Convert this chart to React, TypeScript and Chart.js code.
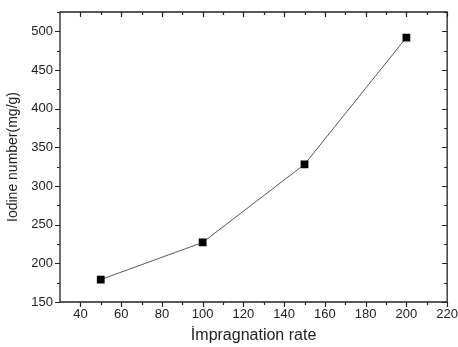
import React, { useEffect, useRef } from "react";
import { Chart, registerables } from "chart.js";

Chart.register(...registerables);

const rates = [50, 100, 150, 200];
const iodine = [179, 227, 328, 492];
const xTickStep = 20;
const yTickStep = 50;
const xRange = [30, 220];
const yRange = [150, 525];
const xTitle = "İmpragnation rate";
const yTitle = "Iodine number(mg/g)";

const FONT = "'Liberation Sans', Arial, sans-serif";

const framePlugin = {
  id: "frame",
  afterDraw(chart: any) {
    const { ctx, chartArea: a, scales } = chart;
    const xs = scales.x;
    const ys = scales.y;
    ctx.save();
    ctx.strokeStyle = "#222";
    ctx.lineWidth = 1.3;
    ctx.beginPath();
    ctx.rect(a.left, a.top, a.right - a.left, a.bottom - a.top);
    ctx.stroke();
    ctx.lineWidth = 1.2;
    ctx.beginPath();
    for (let v = 40; v <= xRange[1] + 1e-6; v += xTickStep / 2) {
      const major = Math.round(v) % xTickStep === 0;
      const px = Math.round(xs.getPixelForValue(v)) + 0.5;
      const len = major ? 5 : 3;
      ctx.moveTo(px, a.bottom);
      ctx.lineTo(px, a.bottom + len);
      ctx.moveTo(px, a.top);
      ctx.lineTo(px, a.top + len);
    }
    for (let v = yRange[0]; v <= yRange[1] + 1e-6; v += yTickStep / 2) {
      const major = Math.round(v) % yTickStep === 0;
      const py = Math.round(ys.getPixelForValue(v)) + 0.5;
      const len = major ? 5 : 3;
      ctx.moveTo(a.left, py);
      ctx.lineTo(a.left - len, py);
      ctx.moveTo(a.right, py);
      ctx.lineTo(a.right - len, py);
    }
    ctx.stroke();
    ctx.restore();
  },
};

export default function App() {
  const ref = useRef<HTMLCanvasElement>(null);
  useEffect(() => {
    if (!ref.current) return;
    const chart = new Chart(ref.current, {
      type: "line",
      data: {
        datasets: [
          {
            data: rates.map((r, i) => ({ x: r, y: iodine[i] })),
            borderColor: "#555",
            borderWidth: 1,
            backgroundColor: "#000",
            pointStyle: "rect",
            pointRadius: 5.5,
            pointBorderWidth: 0,
            pointBackgroundColor: "#000",
            tension: 0,
          },
        ],
      },
      options: {
        animation: false,
        responsive: false,
        maintainAspectRatio: false,
        layout: { padding: { top: 12, right: 9, left: 0, bottom: 0 } },
        plugins: { legend: { display: false }, tooltip: { enabled: false } },
        scales: {
          x: {
            type: "linear",
            min: xRange[0],
            max: xRange[1],
            afterBuildTicks: (s: any) => {
              const t = [];
              for (let v = 40; v <= xRange[1]; v += xTickStep) t.push({ value: v });
              s.ticks = t;
            },
            afterFit: (s: any) => {
              s.height = 45;
            },
            grid: { drawOnChartArea: false, color: "rgba(0,0,0,0)", tickLength: 5 },
            border: { display: false },
            ticks: { color: "#222", font: { family: FONT, size: 13 }, padding: 0, maxRotation: 0, autoSkip: false },
            title: { display: true, text: xTitle, color: "#222", font: { family: FONT, size: 16 }, padding: { top: 0, bottom: 2 } },
          },
          y: {
            type: "linear",
            min: yRange[0],
            max: yRange[1],
            afterBuildTicks: (s: any) => {
              const t = [];
              for (let v = yRange[0]; v <= 500; v += yTickStep) t.push({ value: v });
              s.ticks = t;
            },
            afterFit: (s: any) => {
              s.width = 60;
            },
            grid: { drawOnChartArea: false, color: "rgba(0,0,0,0)", tickLength: 5 },
            border: { display: false },
            ticks: { color: "#222", font: { family: FONT, size: 13 }, padding: 2 },
            title: { display: true, text: yTitle, color: "#222", font: { family: FONT, size: 14 }, padding: { top: 5, bottom: 0 } },
          },
        },
      },
      plugins: [framePlugin],
    });
    return () => chart.destroy();
  }, []);
  return (
    <div style={{ position: "absolute", left: 0, top: 0, width: 458, height: 347, background: "#fff" }}>
      <canvas ref={ref} width={458} height={347} style={{ display: "block" }} />
    </div>
  );
}
